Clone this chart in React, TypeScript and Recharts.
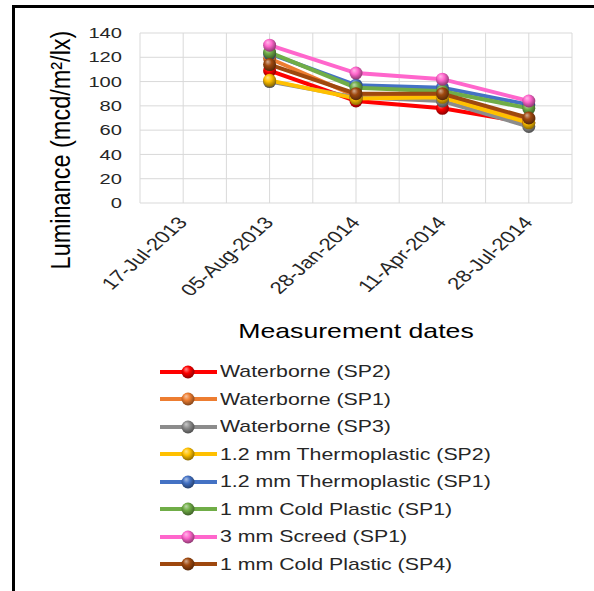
import { CartesianGrid, Legend, Line, LineChart, XAxis, YAxis } from "recharts";

// Fechas de medición: la primera no tiene lecturas (todas las series vacías).
const dates = ["17-Jul-2013", "05-Aug-2013", "28-Jan-2014", "11-Apr-2014", "28-Jul-2014"];

const waterborneSP2 = [null, 109, 84, 78, 66];
const waterborneSP1 = [null, 119, 88, 89, 69];
const waterborneSP3 = [null, 100, 87, 84, 63];
const thermoSP2 = [null, 101, 86, 87, 66];
const thermoSP1 = [null, 123, 97, 95, 81];
const coldPlasticSP1 = [null, 124, 95, 92, 78];
const screedSP1 = [null, 130, 107, 102, 84];
const coldPlasticSP4 = [null, 114, 90, 90, 70];

const seriesNames = [
  "Waterborne (SP2)",
  "Waterborne (SP1)",
  "Waterborne (SP3)",
  "1.2 mm Thermoplastic (SP2)",
  "1.2 mm Thermoplastic (SP1)",
  "1 mm Cold Plastic (SP1)",
  "3 mm Screed (SP1)",
  "1 mm Cold Plastic (SP4)",
];
const seriesValues = [
  waterborneSP2,
  waterborneSP1,
  waterborneSP3,
  thermoSP2,
  thermoSP1,
  coldPlasticSP1,
  screedSP1,
  coldPlasticSP4,
];
const seriesColors = [
  "#ff0000",
  "#ed7d31",
  "#8c8c8c",
  "#ffc000",
  "#4472c4",
  "#70ad47",
  "#ff66cc",
  "#9e480e",
];

const yTicks = [0, 20, 40, 60, 80, 100, 120, 140];
// Eje numérico 0..10: cada fecha ocupa el centro de su banda (1, 3, 5...),
// así la rejilla vertical sale también en los bordes de banda, como en Excel.
const xTicks = [0, 1, 2, 3, 4, 5, 6, 7, 8, 9, 10];

const data = dates.map((date, i) => {
  const row: Record<string, string | number | null> = { pos: i * 2 + 1, date };
  seriesValues.forEach((values, s) => {
    row[`s${s}`] = values[i];
  });
  return row;
});

const FONT = "'Liberation Sans', Arial, sans-serif";
// La imagen original está estirada en horizontal; se imita con scaleX.
const STRETCH = 1.3;

function mix(hex: string, target: number, amount: number) {
  const n = parseInt(hex.slice(1), 16);
  const ch = [(n >> 16) & 255, (n >> 8) & 255, n & 255].map((c) =>
    Math.round(c + (target - c) * amount),
  );
  return `rgb(${ch.join(",")})`;
}

function BallGradient({ id, color }: { id: string; color: string }) {
  return (
    <radialGradient id={id} cx="45%" cy="40%" r="60%" fx="35%" fy="28%">
      <stop offset="0%" stopColor={mix(color, 255, 0.55)} />
      <stop offset="45%" stopColor={color} />
      <stop offset="100%" stopColor={mix(color, 0, 0.45)} />
    </radialGradient>
  );
}

function XTick({ x, y, payload }: any) {
  const v = payload.value;
  if (v % 2 === 0) return <g />;
  return (
    <text
      transform={`translate(${x + 5},${y + 20}) scale(${STRETCH},1) rotate(-49)`}
      textAnchor="end"
      fontSize={17}
      fontFamily={FONT}
      fill="#262626"
    >
      {dates[(v - 1) / 2]}
    </text>
  );
}

function YTick({ x, y, payload }: any) {
  return (
    <text
      transform={`translate(${x - 18},${y}) scale(${STRETCH},1)`}
      textAnchor="end"
      dominantBaseline="central"
      fontSize={15.5}
      fontFamily={FONT}
      fill="#262626"
    >
      {payload.value}
    </text>
  );
}

function LegendContent() {
  return (
    <div style={{ fontFamily: FONT }}>
      {seriesNames.map((name, i) => (
        <div
          key={name}
          style={{ display: "flex", alignItems: "center", height: 27.5 }}
        >
          <svg width={57} height={16}>
            <defs>
              <BallGradient id={`legBall${i}`} color={seriesColors[i]} />
            </defs>
            <line x1={0} x2={57} y1={8} y2={8} stroke={seriesColors[i]} strokeWidth={4} />
            <circle cx={28} cy={8} r={6.5} fill={`url(#legBall${i})`} />
          </svg>
          <span
            style={{
              display: "inline-block",
              marginLeft: 3,
              fontSize: 16.4,
              color: "#262626",
              whiteSpace: "nowrap",
              transform: `scaleX(${STRETCH})`,
              transformOrigin: "left center",
            }}
          >
            {name}
          </span>
        </div>
      ))}
    </div>
  );
}

export default function App() {
  return (
    <div
      style={{
        position: "absolute",
        left: 0,
        top: 0,
        width: 594,
        height: 591,
        background: "#fff",
        overflow: "hidden",
      }}
    >
      <div
        style={{
          position: "absolute",
          left: 12,
          top: 5,
          right: 0,
          bottom: 0,
          borderLeft: "3px solid #000",
          borderTop: "3px solid #000",
        }}
      />
      <LineChart
        width={594}
        height={591}
        data={data}
        margin={{ top: 33, right: 22, bottom: 238, left: 0 }}
        style={{ position: "absolute", left: 0, top: 0 }}
      >
        <defs>
          {seriesColors.map((color, i) => (
            <BallGradient key={color} id={`ball${i}`} color={color} />
          ))}
        </defs>
        <CartesianGrid stroke="#d9d9d9" strokeWidth={1} />
        <XAxis
          type="number"
          dataKey="pos"
          domain={[0, 10]}
          ticks={xTicks}
          interval={0}
          height={150}
          axisLine={false}
          tickLine={false}
          tickSize={0}
          tickMargin={0}
          tick={<XTick />}
          label={{
            value: "Measurement dates",
            content: ({ viewBox }: any) => (
              <text
                transform={`translate(${viewBox.x + viewBox.width / 2},${viewBox.y + 135}) scale(${STRETCH},1)`}
                textAnchor="middle"
                fontSize={20.5}
                fontFamily={FONT}
                fill="#000"
              >
                Measurement dates
              </text>
            ),
          }}
        />
        <YAxis
          domain={[0, 140]}
          ticks={yTicks}
          interval={0}
          width={140}
          axisLine={false}
          tickLine={false}
          tickSize={0}
          tickMargin={0}
          tick={<YTick />}
          label={{
            value: "Luminance (mcd/m²/lx)",
            content: ({ viewBox }: any) => (
              <text
                transform={`translate(${viewBox.x + 60},${viewBox.y + 117}) scale(1.15,1) rotate(-90)`}
                textAnchor="middle"
                dominantBaseline="central"
                fontSize={23.5}
                fontFamily={FONT}
                fill="#000"
              >
                Luminance (mcd/m²/lx)
              </text>
            ),
          }}
        />
        <Legend
          layout="vertical"
          verticalAlign="middle"
          align="center"
          wrapperStyle={{ top: 358, left: 160, width: "auto" }}
          content={() => <LegendContent />}
        />
        {seriesNames.map((name, i) => (
          <Line
            key={name}
            type="linear"
            dataKey={`s${i}`}
            name={name}
            stroke={seriesColors[i]}
            strokeWidth={4}
            dot={{ r: 6.5, fill: `url(#ball${i})`, stroke: "none", strokeWidth: 0 }}
            activeDot={false}
            connectNulls={false}
            isAnimationActive={false}
          />
        ))}
      </LineChart>
    </div>
  );
}
